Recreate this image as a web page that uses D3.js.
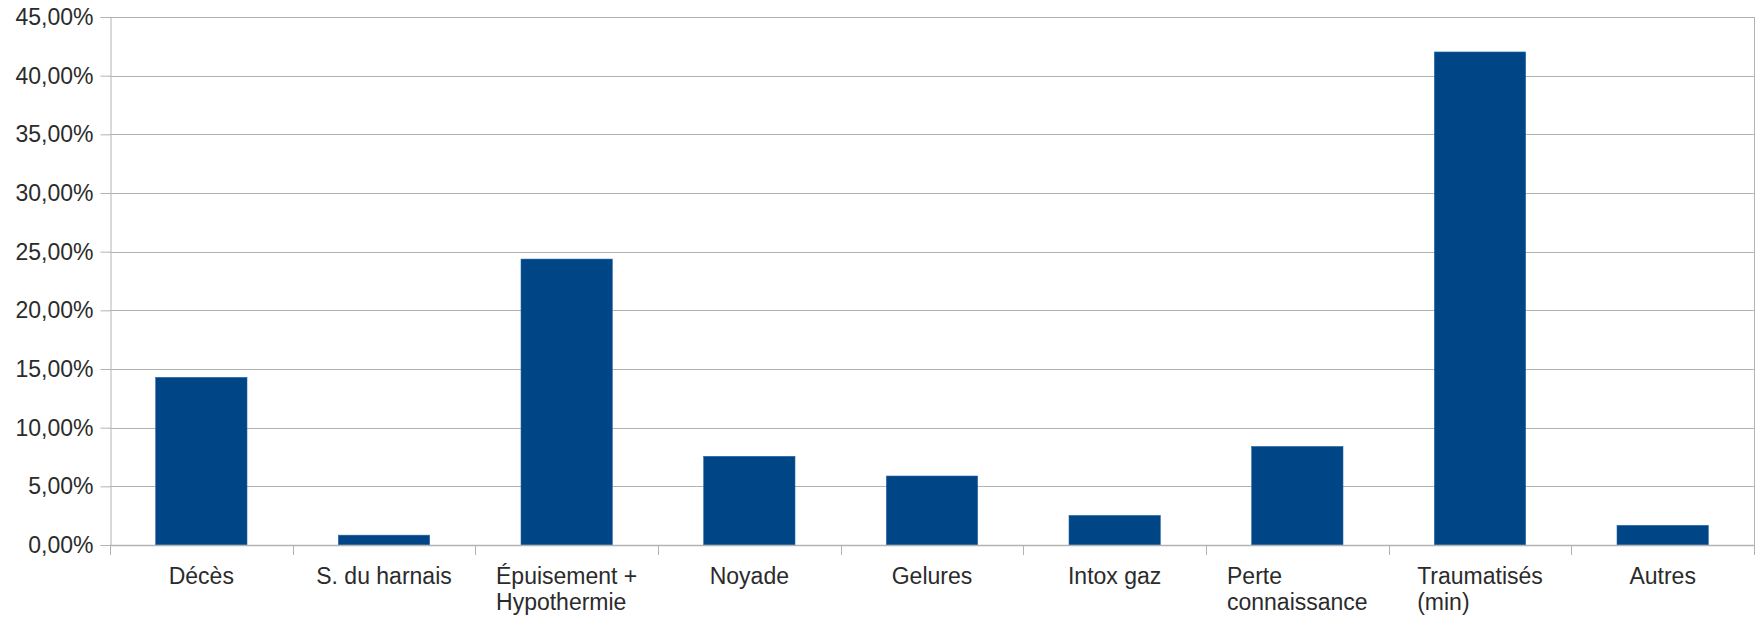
<!DOCTYPE html>
<html>
<head>
<meta charset="utf-8">
<script src="https://cdn.jsdelivr.net/npm/d3@7"></script>
<style>
  html, body { margin: 0; padding: 0; background: #ffffff; }
  svg { display: block; }
  text { font-family: "Liberation Sans", Arial, sans-serif; fill: #2b2b2b; }
</style>
</head>
<body>
<svg id="chart" width="1764" height="618"></svg>
<script>
// ---- Data ----
const categories = ["Décès", "S. du harnais", "Épuisement + Hypothermie", "Noyade", "Gelures", "Intox gaz", "Perte connaissance", "Traumatisés (min)", "Autres"];
const categoryLines = [["Décès"], ["S. du harnais"], ["Épuisement +", "Hypothermie"], ["Noyade"], ["Gelures"], ["Intox gaz"], ["Perte", "connaissance"], ["Traumatisés", "(min)"], ["Autres"]];
const values = [0.1429, 0.0084, 0.2437, 0.0756, 0.0588, 0.0252, 0.0840, 0.4202, 0.0168];
const yTicks = [0, 0.05, 0.10, 0.15, 0.20, 0.25, 0.30, 0.35, 0.40, 0.45];

// ---- Layout ----
const margin = { left: 110, right: 10, top: 17, bottom: 73 };
const W = 1764, H = 618;
const FS = 23;
const svg = d3.select("#chart");

const x = d3.scaleBand().domain(categories).range([margin.left, W - margin.right]).paddingInner(0).paddingOuter(0);
const y = d3.scaleLinear().domain([0, 0.45]).range([H - margin.bottom, margin.top]);

const fr = d3.formatLocale({ decimal: ",", thousands: " ", grouping: [3], currency: ["", " €"] });
const fmt = fr.format(".2%");

const gridColor = "#b3b3b3";

// gridlines
svg.append("g").selectAll("line").data(yTicks).join("line")
  .attr("x1", margin.left).attr("x2", W - margin.right)
  .attr("y1", d => Math.round(y(d)) + 0.5).attr("y2", d => Math.round(y(d)) + 0.5)
  .attr("stroke", gridColor).attr("stroke-width", 1);

// right border
svg.append("line")
  .attr("x1", W - margin.right + 0.5).attr("x2", W - margin.right + 0.5)
  .attr("y1", y(0.45)).attr("y2", y(0))
  .attr("stroke", gridColor);

// bars
const bw = x.bandwidth() * 0.5;
svg.append("g").selectAll("rect").data(values).join("rect")
  .attr("x", (d, i) => x(categories[i]) + (x.bandwidth() - bw) / 2)
  .attr("width", bw)
  .attr("y", d => y(d))
  .attr("height", d => y(0) - y(d))
  .attr("fill", "#004586")
  .attr("stroke", "#2a6aa5").attr("stroke-width", 0.6);

// y axis
const yAxis = d3.axisLeft(y).tickValues(yTicks).tickFormat(fmt).tickSize(10).tickPadding(7);
const gy = svg.append("g").attr("transform", `translate(${margin.left + 0.5},0)`).call(yAxis);
gy.select(".domain").attr("stroke", gridColor);
gy.selectAll(".tick line").attr("stroke", gridColor);
gy.selectAll(".tick text").attr("font-size", FS).attr("fill", "#2b2b2b")
  .attr("font-family", "Liberation Sans, Arial, sans-serif");

// x axis: baseline + boundary ticks
const boundaries = categories.map(c => x(c)).concat([x(categories[categories.length - 1]) + x.bandwidth()]);
svg.append("line")
  .attr("x1", margin.left).attr("x2", W - margin.right)
  .attr("y1", Math.round(y(0)) + 0.5).attr("y2", Math.round(y(0)) + 0.5)
  .attr("stroke", gridColor).attr("stroke-width", 1.5);
svg.append("g").selectAll("line").data(boundaries).join("line")
  .attr("x1", d => Math.round(d) + 0.5).attr("x2", d => Math.round(d) + 0.5)
  .attr("y1", y(0)).attr("y2", y(0) + 10)
  .attr("stroke", gridColor);

// x labels (multi-line, left-aligned block centered on category)
const lineH = 25.5;
const labelG = svg.append("g");
categories.forEach((c, i) => {
  const cx = x(c) + x.bandwidth() / 2;
  const t = labelG.append("text").attr("font-size", FS);
  categoryLines[i].forEach((ln, j) => {
    t.append("tspan").attr("y", y(0) + 39 + j * lineH).text(ln);
  });
  const widths = t.selectAll("tspan").nodes().map(n => n.getComputedTextLength());
  const maxW = d3.max(widths);
  t.selectAll("tspan").attr("x", cx - maxW / 2);
});
</script>
</body>
</html>
